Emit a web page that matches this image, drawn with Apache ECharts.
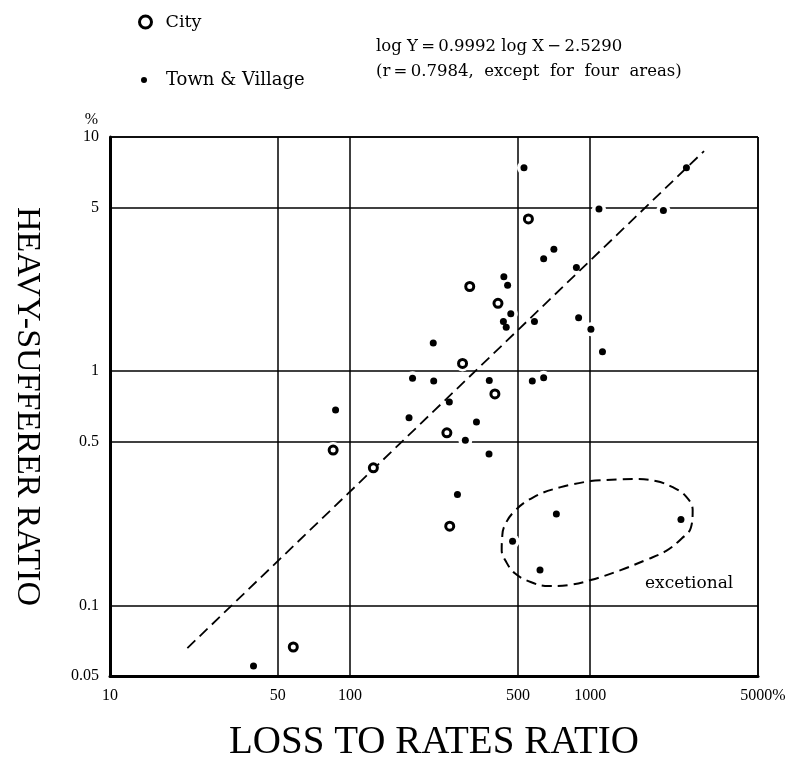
<!DOCTYPE html>
<html>
<head>
<meta charset="utf-8">
<script src="https://cdn.jsdelivr.net/npm/echarts@6/dist/echarts.min.js"></script>
<style>
html, body { margin: 0; padding: 0; background: #fff; }
#main { width: 789px; height: 757px; }
</style>
</head>
<body>
<div id="main"></div>
<script>
// loss-to-rates ratio (%) , heavy-sufferer ratio (%)
var cityData = [
	[553, 4.47], [315, 2.30], [413, 1.95], [294, 1.08], [401, 0.80],
	[253, 0.546], [125, 0.387], [260, 0.218], [85, 0.461], [58, 0.0665]
];
var townData = [
	[530, 7.39], [2517, 7.39], [1088, 4.93], [2018, 4.86], [706, 3.32],
	[640, 3.02], [876, 2.77], [437, 2.53], [453, 2.33], [467, 1.76],
	[435, 1.63], [447, 1.54], [586, 1.63], [895, 1.69], [1007, 1.51],
	[222, 1.32], [1125, 1.21], [182, 0.933], [223, 0.908], [380, 0.914],
	[574, 0.908], [640, 0.938], [259, 0.739], [176, 0.633], [336, 0.607],
	[302, 0.507], [379, 0.443], [280, 0.298], [87, 0.683], [39.6, 0.0551]
];
// the four "excetional" areas
var exceptData = [[723, 0.246], [475, 0.188], [618, 0.1416], [2388, 0.233]];
// regression line end points as drawn
var regLine = [[21, 0.0658], [2980, 8.71]];
// dashed loop round the exceptions
var loop = [
	[1005, 0.340], [1517, 0.3465], [1875, 0.340], [2206, 0.320], [2500, 0.2932],
	[2672, 0.2554], [2624, 0.214], [2405, 0.1932], [2065, 0.1707], [1703, 0.1563],
	[1340, 0.1416], [1005, 0.1284], [813, 0.1222], [671, 0.121], [565, 0.1259],
	[484, 0.1375], [445, 0.1547], [428, 0.1723], [430, 0.195], [436, 0.214],
	[480, 0.2505], [582, 0.2904], [754, 0.320], [1005, 0.340]
];
var equation = [
	'log Y\u2009=\u20090.9992 log X\u2009\u2212\u20092.5290',
	'(r\u2009=\u20090.7984,  except  for  four  areas)'
];

var serif = 'Liberation Serif';
var wide = 'DejaVu Serif';
var townAll = townData.concat(exceptData);

var dom = document.getElementById('main');
var myChart = echarts.init(dom);

function half(v) {
	return Math.round(v / 2 * 10000) / 10000;
}

var option = {
	backgroundColor: '#fff',
	animation: false,
	title: [{
			text: equation.join('\n'),
			left: 371,
			top: 29,
			textStyle: {
				fontFamily: wide,
				fontSize: 16.5,
				fontWeight: 'normal',
				color: '#000',
				lineHeight: 25
			}
		},
		{
			text: 'excetional',
			left: 640,
			top: 570,
			textStyle: {
				fontFamily: wide,
				fontSize: 17,
				fontWeight: 'normal',
				color: '#000'
			}
		}
	],
	legend: [{
			data: [{
				name: 'City',
				itemStyle: { color: '#fff', borderColor: '#000', borderWidth: 3 }
			}],
			left: 138,
			top: 13,
			padding: 0,
			itemWidth: 12,
			itemHeight: 12,
			textStyle: { fontFamily: wide, fontSize: 17.5, color: '#000', padding: [0, 0, 0, 9] }
		},
		{
			data: ['Town & Village'],
			left: 141,
			top: 71,
			padding: 0,
			itemWidth: 6,
			itemHeight: 6,
			textStyle: { fontFamily: wide, fontSize: 18, color: '#000', padding: [0, 0, 0, 14] }
		}
	],
	grid: {
		left: 110,
		right: 31,
		top: 137,
		bottom: 81,
		outerBoundsMode: 'none'
	},
	xAxis: [{
			type: 'log',
			logBase: 10,
			min: 10,
			max: 5000,
			position: 'bottom',
			name: 'LOSS TO RATES RATIO',
			nameLocation: 'middle',
			nameGap: 47,
			nameTextStyle: { fontFamily: serif, fontSize: 39, color: '#000' },
			axisLine: { lineStyle: { color: '#000', width: 3 } },
			axisTick: { show: false },
			splitLine: { show: true, lineStyle: { color: '#000', width: 1.5 } },
			axisLabel: {
				margin: 12,
				fontFamily: serif,
				fontSize: 16,
				color: '#000',
				formatter: function(v) {
					return (v === 100 || v === 1000) ? String(v) : '';
				}
			}
		},
		{
			// shifted by a factor 2 so its ticks fall on 10, 50, 500, 5000
			type: 'log',
			logBase: 10,
			min: 20,
			max: 10000,
			position: 'bottom',
			axisLine: { show: false },
			axisTick: { show: false },
			splitLine: { show: true, lineStyle: { color: '#000', width: 1.5 } },
			axisLabel: {
				margin: 12,
				showMinLabel: true,
				showMaxLabel: true,
				fontFamily: serif,
				fontSize: 16,
				color: '#000',
				formatter: function(v) {
					var h = half(v);
					return h === 5000 ? '{p|5000%}' : String(h);
				},
				rich: {
					p: { fontFamily: serif, fontSize: 16, color: '#000', padding: [0, 0, 0, 10] }
				}
			}
		}
	],
	yAxis: [{
			type: 'log',
			logBase: 10,
			min: 0.05,
			max: 10,
			position: 'left',
			name: 'HEAVY-SUFFERER RATIO',
			nameLocation: 'middle',
			nameRotate: -90,
			nameGap: 66,
			nameTextStyle: { fontFamily: serif, fontSize: 34, color: '#000' },
			axisLine: { lineStyle: { color: '#000', width: 3 } },
			axisTick: { show: false },
			splitLine: { show: true, lineStyle: { color: '#000', width: 1.5 } },
			axisLabel: {
				margin: 11,
				fontFamily: serif,
				fontSize: 16,
				color: '#000',
				formatter: function(v) {
					return (v === 0.1 || v === 1 || v === 10) ? String(v) : '';
				}
			}
		},
		{
			type: 'log',
			logBase: 10,
			min: 0.1,
			max: 20,
			position: 'left',
			name: '%',
			nameLocation: 'end',
			nameGap: 9,
			nameTextStyle: { fontFamily: serif, fontSize: 16, color: '#000', align: 'right', padding: [0, 12, 0, 0] },
			axisLine: { show: false },
			axisTick: { show: false },
			splitLine: { show: true, lineStyle: { color: '#000', width: 1.5 } },
			axisLabel: {
				margin: 11,
				showMinLabel: true,
				showMaxLabel: true,
				fontFamily: serif,
				fontSize: 16,
				color: '#000',
				formatter: function(v) {
					var h = half(v);
					return h === 10 ? '' : String(h);
				}
			}
		}
	],
	series: [{
			// white rings that break the grid lines round the points
			name: 'haloTown',
			type: 'scatter',
			z: 2,
			silent: true,
			symbolSize: 14,
			itemStyle: { color: '#fff', opacity: 1 },
			data: townAll
		},
		{
			name: 'haloCity',
			type: 'scatter',
			z: 2,
			silent: true,
			symbolSize: 16,
			itemStyle: { color: '#fff', opacity: 1 },
			data: cityData
		},
		{
			name: 'fit',
			type: 'line',
			z: 3,
			symbol: 'none',
			lineStyle: { color: '#000', width: 1.8, type: [11, 6] },
			data: regLine
		},
		{
			name: 'loop',
			type: 'line',
			z: 3,
			symbol: 'none',
			smooth: 0.4,
			lineStyle: { color: '#000', width: 2, type: [10, 6] },
			data: loop
		},
		{
			name: 'City',
			type: 'scatter',
			z: 4,
			symbol: 'circle',
			symbolSize: 8,
			itemStyle: { color: '#fff', borderColor: '#000', borderWidth: 3, opacity: 1 },
			data: cityData
		},
		{
			name: 'Town & Village',
			type: 'scatter',
			z: 4,
			symbol: 'circle',
			symbolSize: 7,
			itemStyle: { color: '#000', opacity: 1 },
			data: townAll
		}
	]
};

if (option && typeof option === 'object') {
	myChart.setOption(option, true);
}
</script>
</body>
</html>
